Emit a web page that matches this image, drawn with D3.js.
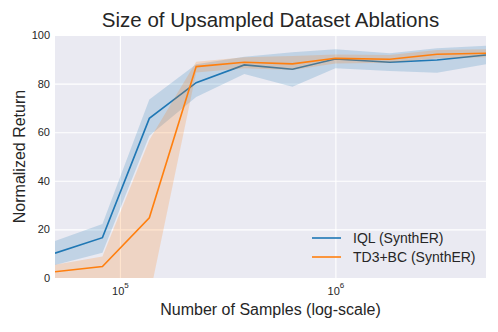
<!DOCTYPE html>
<html>
<head>
<meta charset="utf-8">
<script src="https://cdn.jsdelivr.net/npm/d3@7"></script>
<style>
  body { margin: 0; background: #fff; }
  text { font-family: "Liberation Sans", Arial, sans-serif; fill: #262626; }
</style>
</head>
<body>
<svg id="chart" width="498" height="332"></svg>
<script>
// dataset sizes (number of samples)
const samples = [50000, 83000, 137000, 226000, 378000, 632000, 1000000, 1790000, 2960000, 5000000];

const iqlMean  = [10.2, 16.6, 65.7, 80.4, 87.7, 85.9, 90.1, 88.8, 89.7, 91.8];
const iqlLow   = [5.3, 10.4, 58.5, 74.5, 84.0, 78.7, 86.3, 85.2, 84.5, 88.0];
const iqlHigh  = [15.2, 22.2, 73.5, 88.0, 91.0, 92.9, 94.1, 92.5, 94.5, 95.6];

const td3Mean  = [2.6, 4.7, 24.8, 87.0, 88.8, 88.1, 90.4, 90.0, 92.1, 92.5];
const td3Low   = [-0.5, -0.5, -8.0, 84.6, 86.3, 85.6, 88.3, 88.6, 90.4, 90.8];
const td3High  = [5.5, 8.8, 56.8, 89.0, 90.8, 91.4, 92.0, 91.8, 93.8, 94.1];

const yTicks = [0, 20, 40, 60, 80, 100];
const xTicks = [1e5, 1e6];

const series = [
  { name: "IQL (SynthER)", color: "#1f77b4", mean: iqlMean, low: iqlLow, high: iqlHigh },
  { name: "TD3+BC (SynthER)", color: "#ff7f0e", mean: td3Mean, low: td3Low, high: td3High }
];

const margin = { top: 35, right: 12, bottom: 54, left: 55 };
const width = 498, height = 332;

const svg = d3.select("#chart");

const x = d3.scaleLog([5e4, 5e6], [margin.left, width - margin.right]);
const y = d3.scaleLinear([0, 100], [height - margin.bottom, margin.top]);

svg.append("defs").append("clipPath").attr("id", "plotclip")
  .append("rect")
    .attr("x", margin.left).attr("y", margin.top)
    .attr("width", width - margin.left - margin.right)
    .attr("height", height - margin.top - margin.bottom);

// background + grid
svg.append("rect")
  .attr("x", margin.left).attr("y", margin.top)
  .attr("width", width - margin.left - margin.right)
  .attr("height", height - margin.top - margin.bottom)
  .attr("fill", "#EAEAF2");

svg.append("g")
  .attr("transform", `translate(${margin.left},0)`)
  .call(d3.axisLeft(y).tickValues(yTicks).tickSize(-(width - margin.left - margin.right)).tickPadding(5).tickFormat(d3.format("d")))
  .call(g => g.select(".domain").remove())
  .call(g => g.selectAll(".tick line").attr("stroke", "#fff").attr("stroke-width", 1.1))
  .call(g => g.selectAll(".tick text").attr("font-size", 11).attr("fill", "#262626"));

const xAxis = svg.append("g")
  .attr("transform", `translate(0,${height - margin.bottom})`)
  .call(d3.axisBottom(x).tickValues(xTicks).tickSize(-(height - margin.top - margin.bottom)).tickFormat(""))
  .call(g => g.select(".domain").remove())
  .call(g => g.selectAll(".tick line").attr("stroke", "#fff").attr("stroke-width", 1.1));

xAxis.selectAll(".tick").append("text")
  .attr("y", 17)
  .attr("text-anchor", "middle")
  .attr("font-size", 11)
  .attr("fill", "#262626")
  .call(t => t.append("tspan").text("10"))
  .call(t => t.append("tspan").attr("dy", -7).attr("font-size", 8).text(d => Math.round(Math.log10(d))));

// series
const area = d3.area()
  .x((d, i) => x(samples[i]))
  .y0(d => y(d[0]))
  .y1(d => y(d[1]));

const line = d3.line()
  .x((d, i) => x(samples[i]))
  .y(d => y(d));

const plot = svg.append("g").attr("clip-path", "url(#plotclip)");

series.forEach(s => {
  plot.append("path")
    .datum(s.low.map((v, i) => [v, s.high[i]]))
    .attr("fill", s.color)
    .attr("fill-opacity", 0.2)
    .attr("d", area);
  plot.append("path")
    .datum(s.mean)
    .attr("fill", "none")
    .attr("stroke", s.color)
    .attr("stroke-width", 1.6)
    .attr("d", line);
});

// legend
const legend = svg.append("g").attr("transform", "translate(312,238)");
series.forEach((s, i) => {
  const g = legend.append("g").attr("transform", `translate(0,${i * 19})`);
  g.append("line").attr("x1", 0).attr("x2", 29).attr("stroke", s.color).attr("stroke-width", 1.6);
  g.append("text").attr("x", 41).attr("dy", "0.35em").attr("font-size", 14).text(s.name);
});

// titles
svg.append("text")
  .attr("x", (margin.left + width - margin.right) / 2)
  .attr("y", 27)
  .attr("text-anchor", "middle")
  .attr("font-size", 20.5)
  .text("Size of Upsampled Dataset Ablations");

svg.append("text")
  .attr("x", (margin.left + width - margin.right) / 2)
  .attr("y", 315)
  .attr("text-anchor", "middle")
  .attr("font-size", 16)
  .text("Number of Samples (log-scale)");

svg.append("text")
  .attr("transform", `translate(25,${(margin.top + height - margin.bottom) / 2}) rotate(-90)`)
  .attr("text-anchor", "middle")
  .attr("font-size", 16)
  .text("Normalized Return");
</script>
</body>
</html>
